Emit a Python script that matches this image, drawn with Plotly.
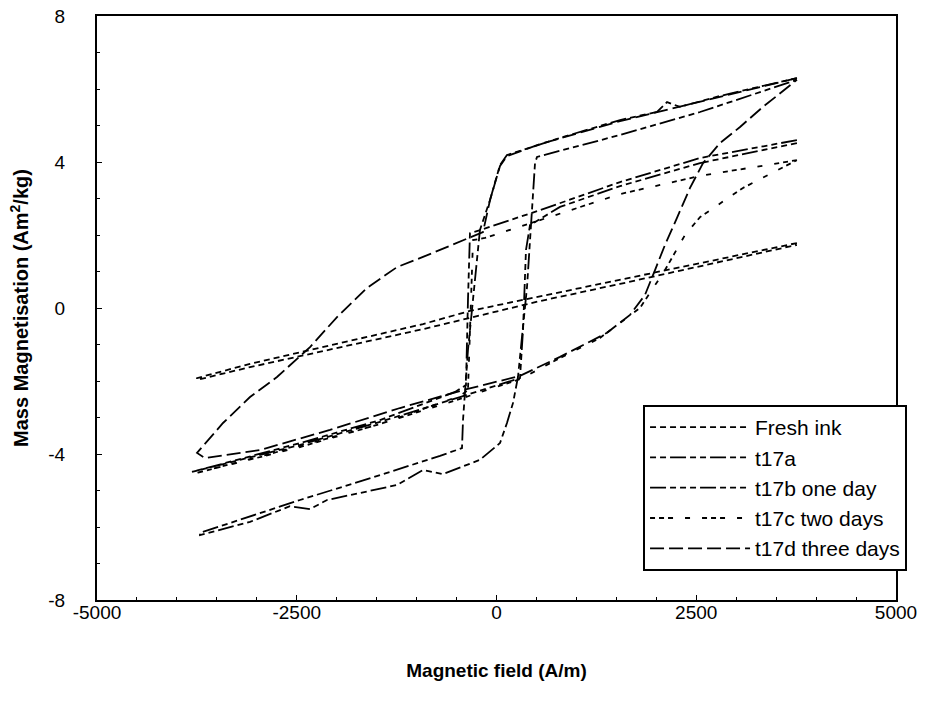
import plotly.graph_objects as go

# hysteresis loops: field H (A/m), mass magnetisation M (Am2/kg)
# each loop is stored as one path: descending branch (+H -> -H) then ascending branch

fresh_h = [3760, 2547, 1546, 544, 44, -332, -920, -1458, -2334, -3085, -3748,
           -3748, -3085, -2334, -1458, -920, -332, 44, 544, 1546, 2547, 3760]
fresh_m = [1.78, 1.23, 0.79, 0.33, 0.11, -0.08, -0.44, -0.71, -1.15, -1.53, -1.92,
           -1.97, -1.62, -1.26, -0.82, -0.58, -0.27, -0.08, 0.19, 0.66, 1.15, 1.73]

t17a_h = [3760, 2797, 2297, 2134, 2009, 1546, 795, 131, 44, -81, -207, -294, -357, -419, -432, -707, -1458, -2459, -3711,
          -3711, -3085, -2585, -2334, -2121, -1245, -920, -670, -207, 44, 131, 207, 269, 319, 382, 482, 507, 1546, 2547, 3760]
t17a_m = [6.30, 5.81, 5.51, 5.64, 5.37, 5.15, 4.66, 4.19, 3.92, 2.96, 2.14, 0.22, -1.15, -3.07, -3.84, -4.05, -4.58, -5.26, -6.16,
          -6.22, -5.86, -5.43, -5.51, -5.26, -4.85, -4.44, -4.55, -4.16, -3.70, -3.15, -2.60, -1.89, -0.88, 0.58, 3.97, 4.14, 4.74, 5.37, 6.25]

t17b_h = [3760, 2547, 1546, 544, -169, -332, -357, -382, -519, -1458, -2459, -3811,
          -3811, -2459, -1458, -457, 294, 332, 369, 419, 795, 1546, 2547, 3760]
t17b_m = [4.60, 4.11, 3.45, 2.68, 2.16, 2.05, 0.22, -2.11, -2.30, -3.07, -3.70, -4.49,
          -4.49, -3.75, -3.12, -2.44, -1.92, -0.60, 1.59, 2.27, 2.77, 3.34, 3.97, 4.52]

t17c_h = [3760, 2547, 1546, 544, -144, -294, -319, -357, -457, -1458, -2459, -3811,
          -3811, -2459, -1458, -457, 294, 795, 1295, 1796, 2109, 2359, 2547, 3085, 3760]
t17c_m = [4.05, 3.62, 3.12, 2.41, 1.92, 1.86, 0.22, -2.25, -2.41, -3.18, -3.78, -4.55,
          -4.55, -3.81, -3.18, -2.49, -1.95, -1.37, -0.82, 0.00, 1.04, 2.00, 2.49, 3.29, 4.05]

t17d_h = [3760, 2797, 1546, 544, 131, 44, -81, -169, -582, -920, -1245, -1621, -1996, -2334, -2747, -3085, -3423, -3748,
          -3748, -3648, -2960, -2084, -1208, -419, 294, 795, 1383, 1671, 1859, 1984, 2109, 2259, 2422, 2585, 2797, 3048, 3335, 3760]
t17d_m = [6.30, 5.78, 5.12, 4.49, 4.16, 3.89, 2.96, 2.08, 1.70, 1.40, 1.12, 0.55, -0.25, -1.07, -1.89, -2.44, -3.15, -3.97,
          -3.97, -4.11, -3.89, -3.34, -2.74, -2.25, -1.86, -1.34, -0.68, -0.19, 0.36, 1.04, 1.73, 2.47, 3.29, 3.97, 4.52, 4.96, 5.51, 6.25]

names = ["Fresh ink", "t17a", "t17b one day", "t17c two days", "t17d three days"]
dashes = ["6px,4px",
          "6px,4px,6px,4px,16px,4px",
          "16px,4px,6px,4px,6px,4px,6px,4px",
          "5px,4px,5px,4px,5px,12px,5px,12px",
          "14px,5px"]
loops = [(fresh_h, fresh_m), (t17a_h, t17a_m), (t17b_h, t17b_m), (t17c_h, t17c_m), (t17d_h, t17d_m)]

x_ticks = [-5000, -2500, 0, 2500, 5000]
y_ticks = [-8, -4, 0, 4, 8]

fig = go.Figure()
for name, dash, (h, m) in zip(names, dashes, loops):
    fig.add_trace(go.Scatter(
        x=h, y=m,
        mode="lines",
        name=name,
        line=dict(color="black", width=1.8, dash=dash),
    ))

axis_style = dict(
    showline=True, mirror=True, linecolor="black", linewidth=2,
    showgrid=False, zeroline=False, automargin=False,
    ticks="inside", ticklen=5, tickcolor="black",
    tickfont=dict(size=19, color="black"),
)

fig.update_layout(
    width=927, height=705,
    margin=dict(l=97, r=31, t=16, b=105),
    plot_bgcolor="white", paper_bgcolor="white",
    font=dict(family="Liberation Sans, Arial, sans-serif", color="black"),
    xaxis=dict(range=[-5000, 5000], tickvals=x_ticks, ticktext=[str(v) for v in x_ticks],
               minor=dict(dtick=500, ticks="inside", ticklen=3, tickcolor="black"),
               ticklabelstandoff=-6,
               title=dict(text="<b>Magnetic field (A/m)</b>", font=dict(size=19), standoff=42),
               **axis_style),
    yaxis=dict(range=[-8, 8], tickvals=y_ticks, ticktext=[str(v) for v in y_ticks],
               minor=dict(dtick=1, ticks="inside", ticklen=3, tickcolor="black"),
               ticklabelstandoff=26,
               title=dict(text="<b>Mass Magnetisation (Am<sup>2</sup>/kg)</b>", font=dict(size=20), standoff=14),
               **axis_style),
    legend=dict(x=0.6834, y=0.334, xanchor="left", yanchor="top",
                bgcolor="white", bordercolor="black", borderwidth=2,
                font=dict(size=21), itemwidth=100),
    showlegend=True,
)

# drop the default body margin so the figure sits at the page corner, no modebar
fig.write_html("out.html", config={"displayModeBar": False},
               post_script="document.body.style.margin='0';")
